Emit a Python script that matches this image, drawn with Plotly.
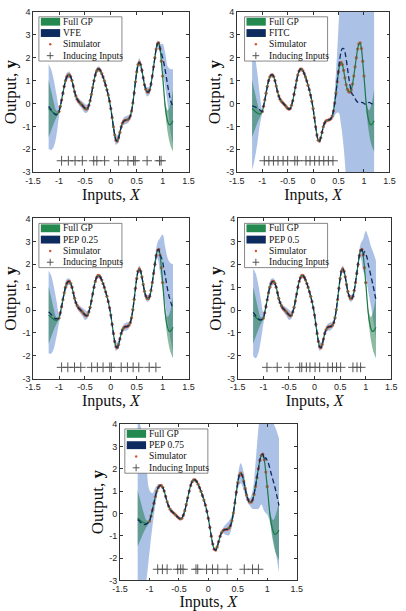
import numpy as np
import plotly.graph_objects as go

# ---------------- data ----------------
X_GRID = np.round(np.linspace(-1.2, 1.2, 97), 4)   # prediction grid, step 0.025
SIM_X = X_GRID[8:89]                               # simulator inputs -1 .. 1
BAND_X = X_GRID[::2]                               # band grid, step 0.05

SIM_Y = [-0.35, -0.12, 0.15, 0.45, 0.75, 1.0, 1.16, 1.24, 1.25, 1.17,
         1.0, 0.76, 0.52, 0.33, 0.19, 0.1, 0.04, -0.02, -0.08, -0.15,
         -0.21, -0.25, -0.22, -0.08, 0.12, 0.4, 0.7, 1.0, 1.25, 1.42,
         1.5, 1.5, 1.43, 1.31, 1.16, 0.99, 0.8, 0.6, 0.37, 0.1,
         -0.22, -0.62, -1.02, -1.37, -1.6, -1.64, -1.5, -1.26, -1.02, -0.86,
         -0.77, -0.73, -0.72, -0.71, -0.66, -0.55, -0.33, 0.02, 0.46, 0.95,
         1.38, 1.7, 1.8, 1.7, 1.45, 1.12, 0.82, 0.62, 0.51, 0.5,
         0.6, 0.85, 1.2, 1.6, 2.0, 2.38, 2.6, 2.65, 2.4, 1.85,
         1.2]

FULL_LEFT = [-0.22, -0.27, -0.32, -0.37, -0.41, -0.44, -0.46, -0.43]
FULL_RIGHT = [0.5, -0.15, -0.55, -0.8, -0.93, -0.92, -0.85, -0.75]
FULL_HW = [1.25, 0.85, 0.45, 0.15, 0.03,
           0.02, 0.02, 0.02, 0.02, 0.02, 0.02, 0.02, 0.02, 0.02, 0.02,
           0.02, 0.02, 0.02, 0.02, 0.02, 0.02, 0.02, 0.02, 0.02, 0.02,
           0.02, 0.02, 0.02, 0.02, 0.02, 0.02, 0.02, 0.02, 0.02, 0.02,
           0.02, 0.02, 0.02, 0.02, 0.02, 0.02, 0.02, 0.02, 0.02,
           0.05, 0.2, 0.5, 0.9, 1.35]

VFE_LEFT = [-0.13, -0.2, -0.28, -0.36, -0.43, -0.48, -0.5, -0.45]
VFE_RIGHT = [2.2, 2.0, 1.75, 1.45, 1.1, 0.75, 0.45, 0.15, 0.0, -0.13]
VFE_HW = [1.85, 1.75, 1.45, 0.9, 0.2, 0.12, 0.14, 0.17, 0.14, 0.12,
          0.12, 0.13, 0.15, 0.17, 0.2, 0.16, 0.12, 0.1, 0.1, 0.12,
          0.12, 0.1, 0.1, 0.1, 0.12, 0.15, 0.2, 0.18, 0.14, 0.16,
          0.18, 0.15, 0.12, 0.12, 0.15, 0.18, 0.15, 0.15, 0.2, 0.18,
          0.13, 0.13, 0.15, 0.2, 0.6, 0.75, 0.85, 1.35, 1.63]
IND_VFE = [-0.95, -0.82, -0.69, -0.55, -0.33, -0.27, -0.12, 0.15, 0.33,
           0.44, 0.47, 0.70, 0.94, 0.97]

FITC_LEFT = [-0.1, -0.12, -0.14, -0.17, -0.2, -0.23, -0.27, -0.32]
FITC_RIGHT = [1.0, 1.5, 1.95, 2.25, 2.4, 2.4, 2.25, 1.95, 1.55, 1.15,
              0.8, 0.55, 0.38, 0.35, 0.22, 0.12, 0.06, 0.03, 0.04, 0.05,
              0.04, 0.0, -0.03, -0.02, 0.02, 0.05, 0.03, -0.01, 0.0, 0.02]
FITC_HW = [2.8, 2.3, 1.6, 0.7, 0.08,
           0.05, 0.05, 0.05, 0.05, 0.05, 0.05, 0.05, 0.05, 0.05, 0.05,
           0.05, 0.05, 0.05, 0.05, 0.05, 0.05, 0.05, 0.05, 0.05, 0.05,
           0.05, 0.05, 0.05, 0.05, 0.05, 0.05, 0.05,
           0.3, 0.9, 1.9, 3.2, 4.3, 5.3, 6.3,
           7.5, 7.5, 7.5, 7.5, 7.5, 7.5, 7.5, 7.5, 7.5, 7.5]
IND_FITC = [-0.96, -0.87, -0.78, -0.69, -0.59, -0.50, -0.36, -0.31, -0.14,
            -0.06, 0.03, 0.12, 0.21, 0.30, 0.39]

P25_LEFT = [-0.08, -0.14, -0.2, -0.27, -0.33, -0.37, -0.38, -0.37]
P25_RIGHT = [2.3, 2.1, 1.8, 1.5, 1.15, 0.85, 0.6, 0.4, 0.22, 0.1]
P25_HW = [1.8, 1.7, 1.35, 0.8, 0.2, 0.12, 0.15, 0.2, 0.13, 0.1,
          0.1, 0.12, 0.15, 0.18, 0.22, 0.15, 0.1, 0.08, 0.08, 0.1,
          0.1, 0.08, 0.08, 0.08, 0.1, 0.12, 0.18, 0.15, 0.12, 0.15,
          0.18, 0.13, 0.1, 0.1, 0.12, 0.15, 0.12, 0.12, 0.15, 0.15,
          0.12, 0.15, 0.35, 0.75, 1.2, 1.25, 1.4, 1.65, 1.9]
IND_P25 = [-0.95, -0.83, -0.70, -0.58, -0.37, -0.26, -0.15, -0.02, 0.01,
           0.2, 0.32, 0.43, 0.54, 0.74, 0.87]

P50_LEFT = [-0.1, -0.17, -0.25, -0.32, -0.38, -0.42, -0.43, -0.4]
P50_RIGHT = [2.55, 2.45, 2.3, 2.0, 1.75, 1.5, 1.25, 1.0, 0.72, 0.45]
P50_HW = [1.9, 1.85, 1.5, 0.9, 0.25, 0.12, 0.15, 0.2, 0.13, 0.1,
          0.1, 0.12, 0.15, 0.18, 0.22, 0.15, 0.1, 0.08, 0.08, 0.1,
          0.1, 0.08, 0.08, 0.08, 0.1, 0.12, 0.18, 0.15, 0.12, 0.15,
          0.18, 0.13, 0.1, 0.1, 0.12, 0.15, 0.12, 0.12, 0.15, 0.15,
          0.12, 0.15, 0.3, 0.7, 1.0, 1.2, 1.3, 1.5, 1.7]
IND_P50 = [-0.93, -0.73, -0.50, -0.29, -0.25, -0.16, -0.09, 0.01, 0.10,
           0.26, 0.35, 0.43, 0.51, 0.75, 0.83, 0.90]

P75_LEFT = [-0.28, -0.33, -0.4, -0.46, -0.5, -0.5, -0.47, -0.42]
P75_RIGHT = [2.5, 2.35, 2.2, 1.95, 1.7, 1.47, 1.23, 0.95, 0.65, 0.35]
P75_HW = [4.5, 4.3, 3.4, 2.5, 1.4, 0.75, 0.4, 0.15,
          0.05, 0.05, 0.05, 0.05, 0.05, 0.05, 0.05, 0.05, 0.05, 0.05,
          0.05, 0.05, 0.05, 0.05, 0.05, 0.05, 0.05, 0.05, 0.05, 0.05, 0.05,
          0.12, 0.25, 0.32, 0.25, 0.2, 0.3, 0.45, 0.4, 0.25, 0.15,
          0.4, 1.0, 1.8, 2.2, 2.3, 2.4, 2.4, 2.6, 2.8, 3.0]
IND_P75 = [-0.86, -0.78, -0.70, -0.52, -0.47, -0.43, -0.21, -0.18, -0.03,
           0.07, 0.16, 0.32, 0.61, 0.75, 0.85]

NAMES = ["VFE", "FITC", "PEP 0.25", "PEP 0.5", "PEP 0.75"]
X_TICKS = [-1.5, -1, -0.5, 0, 0.5, 1, 1.5]
X_TICK_TEXT = ["-1.5", "-1", "-0.5", "0", "0.5", "1", "1.5"]
Y_TICKS = [-3, -2, -1, 0, 1, 2, 3, 4]
Y_TICK_TEXT = ["-3", "-2", "-1", "0", "1", "2", "3", "4"]

FULL_MEAN = np.array(FULL_LEFT + SIM_Y + FULL_RIGHT)
SPARSE_MEANS = [
    np.array(VFE_LEFT + SIM_Y[:79] + VFE_RIGHT),
    np.array(FITC_LEFT + SIM_Y[:59] + FITC_RIGHT),
    np.array(P25_LEFT + SIM_Y[:79] + P25_RIGHT),
    np.array(P50_LEFT + SIM_Y[:79] + P50_RIGHT),
    np.array(P75_LEFT + SIM_Y[:79] + P75_RIGHT),
]
SPARSE_HW = [VFE_HW, FITC_HW, P25_HW, P50_HW, P75_HW]
INDUCING = [IND_VFE, IND_FITC, IND_P25, IND_P50, IND_P75]

# ---------------- style / layout ----------------
W, H = 406, 611
PIX = [  # (left, right, top, bottom) of each axes box in pixels
    (26, 187, 7, 170),
    (237, 395, 7, 170),
    (26, 187, 217, 380),
    (238, 397, 217, 380),
    (116, 299, 426, 585),
]
LEG_PIX = [(32, 12), (245, 12), (32, 222), (245, 222), (121, 431)]
BOX_W, BOX_H = 86, 45

BLUE_FILL = "rgba(80,125,200,0.48)"
GREEN_FILL = "rgba(25,120,70,0.5)"
GREEN_LINE = "#1c7a48"
NAVY = "#0d2b5e"
GREEN_PATCH = "#24894f"
RED = "#d0553c"
PLUS = "#555555"
SERIF = "Liberation Serif"
SANS = "Liberation Sans"


def px(x):
    return x / W


def py(y):
    return 1 - y / H


fig = go.Figure()
shapes, annotations = [], []
layout = dict(width=W, height=H, margin=dict(l=0, r=0, t=0, b=0),
              paper_bgcolor="white", plot_bgcolor="white", showlegend=False)

for i in range(5):
    s = "" if i == 0 else str(i + 1)
    xa, ya = "x" + s, "y" + s
    mean = SPARSE_MEANS[i]
    hw = np.array(SPARSE_HW[i])
    bm = mean[::2]
    fm = FULL_MEAN[::2]
    fhw = np.array(FULL_HW)
    common = dict(xaxis=xa, yaxis=ya, hoverinfo="skip", showlegend=False)

    fig.add_trace(go.Scatter(x=BAND_X, y=bm - hw, mode="lines",
                             line=dict(width=0, shape="spline"), **common))
    fig.add_trace(go.Scatter(x=BAND_X, y=bm + hw, mode="lines",
                             line=dict(width=0, shape="spline"),
                             fill="tonexty", fillcolor=BLUE_FILL, **common))
    fig.add_trace(go.Scatter(x=BAND_X, y=fm - fhw, mode="lines",
                             line=dict(width=0, shape="spline"), **common))
    fig.add_trace(go.Scatter(x=BAND_X, y=fm + fhw, mode="lines",
                             line=dict(width=0, shape="spline"),
                             fill="tonexty", fillcolor=GREEN_FILL, **common))
    fig.add_trace(go.Scatter(x=SIM_X, y=SIM_Y, mode="markers", name="Simulator",
                             marker=dict(color=RED, size=3.2), **common))
    fig.add_trace(go.Scatter(x=X_GRID, y=FULL_MEAN, mode="lines", name="Full GP",
                             line=dict(color=GREEN_LINE, width=1.2, shape="spline"),
                             **common))
    fig.add_trace(go.Scatter(x=X_GRID, y=mean, mode="lines", name=NAMES[i],
                             line=dict(color=NAVY, width=1.3, dash="5px,3px",
                                       shape="spline"), **common))
    ind = INDUCING[i]
    fig.add_trace(go.Scatter(x=ind, y=[-2.5] * len(ind), mode="markers",
                             name="Inducing Inputs",
                             marker=dict(symbol="cross-thin", size=7,
                                         line=dict(color=PLUS, width=1)),
                             **common))

    l, r, t, b = PIX[i]
    axcommon = dict(showline=True, linecolor="#333333", linewidth=0.7,
                    mirror="allticks", ticks="inside", ticklen=3,
                    tickwidth=0.6, tickcolor="#333333", showgrid=False,
                    zeroline=False,
                    tickfont=dict(family=SANS, size=9, color="#262626"))
    layout["xaxis" + s] = dict(domain=[l / W, r / W], anchor=ya,
                               range=[-1.5, 1.5], tickvals=X_TICKS,
                               ticktext=X_TICK_TEXT,
                               title=dict(text="Inputs, <i>X</i>", standoff=3,
                                          font=dict(family=SERIF, size=16,
                                                    color="#111111")),
                               **axcommon)
    layout["yaxis" + s] = dict(domain=[1 - b / H, 1 - t / H], anchor=xa,
                               range=[-3, 4], tickvals=Y_TICKS,
                               ticktext=Y_TICK_TEXT,
                               title=dict(text="Output, <b>y</b>", standoff=1,
                                          font=dict(family=SERIF, size=17,
                                                    color="#111111")),
                               **axcommon)

    # ---- legend box (drawn manually for a compact MATLAB-like look) ----
    bx, by = LEG_PIX[i]
    shapes.append(dict(type="rect", xref="paper", yref="paper",
                       x0=px(bx), x1=px(bx + BOX_W), y0=py(by + BOX_H), y1=py(by),
                       fillcolor="white", line=dict(color="#555555", width=0.7)))
    rows = [by + 5, by + 16.5, by + 28, by + 39.5]
    labels = ["Full GP", NAMES[i], "Simulator", "Inducing Inputs"]
    for k, col in enumerate([GREEN_PATCH, NAVY]):
        shapes.append(dict(type="rect", xref="paper", yref="paper",
                           x0=px(bx + 2), x1=px(bx + 22),
                           y0=py(rows[k] + 4), y1=py(rows[k] - 4),
                           fillcolor=col, line=dict(width=0)))
    shapes.append(dict(type="circle", xref="paper", yref="paper",
                       x0=px(bx + 10.5), x1=px(bx + 13), y0=py(rows[2] + 1.25),
                       y1=py(rows[2] - 1.25), fillcolor=RED,
                       line=dict(width=0)))
    shapes.append(dict(type="line", xref="paper", yref="paper",
                       x0=px(bx + 8.2), x1=px(bx + 15.2), y0=py(rows[3]),
                       y1=py(rows[3]), line=dict(color=PLUS, width=1)))
    shapes.append(dict(type="line", xref="paper", yref="paper",
                       x0=px(bx + 11.7), x1=px(bx + 11.7), y0=py(rows[3] - 3.5),
                       y1=py(rows[3] + 3.5), line=dict(color=PLUS, width=1)))
    for k, lab in enumerate(labels):
        annotations.append(dict(xref="paper", yref="paper", x=px(bx + 23),
                                y=py(rows[k]), text=lab, showarrow=False,
                                xanchor="left", yanchor="middle",
                                font=dict(family=SERIF, size=9.5, color="#111111")))

layout["shapes"] = shapes
layout["annotations"] = annotations
fig.update_layout(**layout)
fig.write_html("out.html")
